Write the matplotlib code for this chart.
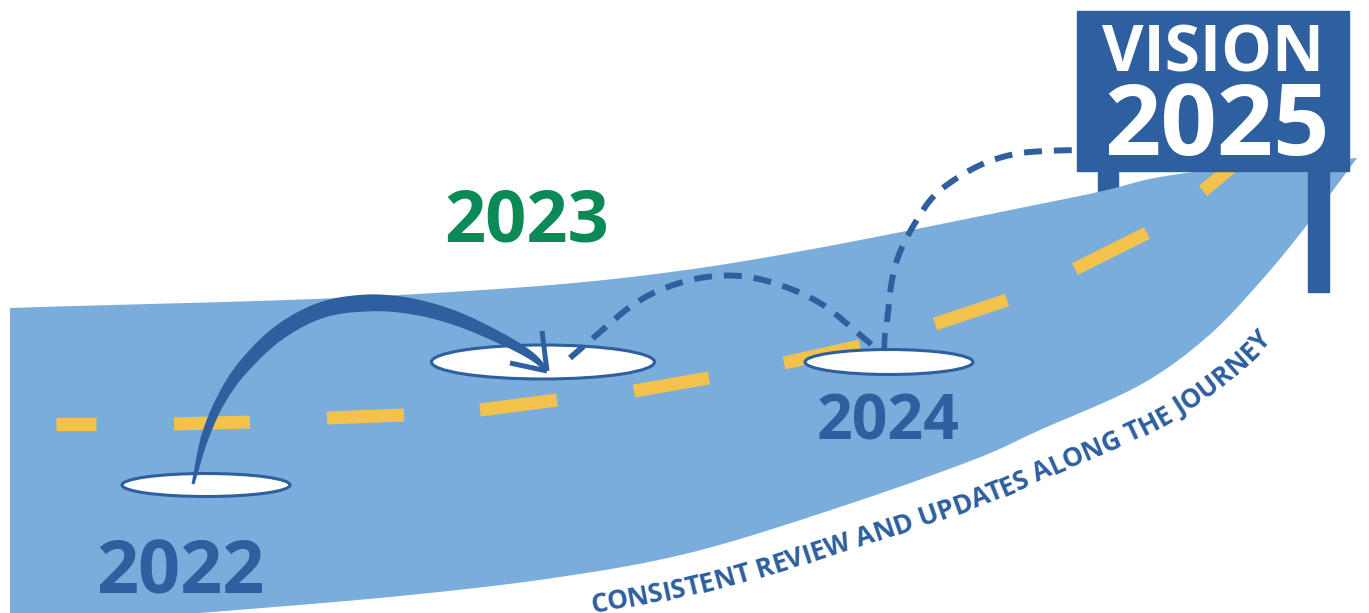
import numpy as np
import matplotlib
matplotlib.use("Agg")
import matplotlib.pyplot as plt
from matplotlib.patches import Ellipse, Polygon, Rectangle
from matplotlib.font_manager import FontProperties
from matplotlib.textpath import TextToPath

W, H = 1369, 613
ROAD = "#7AADDC"
BLUE = "#2E5F9E"
YELLOW = "#F2C24D"
GREEN = "#0B8A56"

# road outline (pixel coords, y down)
road_top = [(10, 308), (400, 295), (700, 268), (1060, 200), (1160, 177), (1260, 165), (1357, 158)]
road_bottom = [(-20, 630), (200, 613), (400, 596), (560, 577), (693, 552), (840, 507),
               (973, 460), (1040, 430), (1140, 385), (1207, 337), (1260, 282), (1307, 225),
               (1357, 158)]

# yellow centre-line dashes
dashes = [((56, 424), (96, 424)), ((174, 424), (250, 422)), ((327, 418), (404, 415)),
          ((480, 410), (557, 400)), ((634, 391), (709, 378)), ((784, 363), (860, 346)),
          ((935, 324), (1007, 300)), ((1075, 269), (1147, 233)), ((1203, 191), (1240, 160))]

# stepping stones: centre x, centre y, width, height
stones_x = [206, 543, 889]
stones_y = [485, 362, 362]
stones_w = [168, 223, 168]
stones_h = [23, 34, 25]

# years
years = ["2022", "2023", "2024"]
years_x = [180, 527, 888]
years_base = [593, 242, 440]
years_size = [53, 52, 45]
years_color = [BLUE, GREEN, BLUE]

# solid jump 2022 -> 2023 (centre line and stroke width)
jump_pts = [(193, 484), (205, 437), (222, 398), (245, 365), (280, 332), (322, 310),
            (367, 303), (410, 306), (455, 318), (500, 338), (530, 355), (547, 370)]
jump_w = [3, 8, 10, 13, 15, 16, 17, 16, 14, 11, 8, 4]

# dashed hops
hop1 = [(570, 358), (600, 332), (630, 307), (660, 290), (700, 278), (740, 276),
        (780, 285), (820, 303), (852, 328), (880, 352)]
hop2 = [(887, 322), (892, 280), (900, 252), (915, 223), (933, 197), (957, 178),
        (985, 163), (1015, 154), (1045, 151), (1080, 150)]

caption = "CONSISTENT REVIEW AND UPDATES ALONG THE JOURNEY"


def smooth(pts, n=30):
    pts = np.asarray(pts, float)
    p = np.vstack([2 * pts[0] - pts[1], pts, 2 * pts[-1] - pts[-2]])
    t = np.linspace(0, 1, n, endpoint=False)[:, None]
    out = []
    for i in range(1, len(p) - 2):
        p0, p1, p2, p3 = p[i - 1], p[i], p[i + 1], p[i + 2]
        out.append(0.5 * (2 * p1 + (-p0 + p2) * t + (2 * p0 - 5 * p1 + 4 * p2 - p3) * t ** 2
                          + (-p0 + 3 * p1 - 3 * p2 + p3) * t ** 3))
    out.append(pts[-1][None])
    return np.vstack(out)


def normals(c):
    d = np.gradient(c, axis=0)
    d /= np.hypot(d[:, 0], d[:, 1])[:, None]
    return np.column_stack([-d[:, 1], d[:, 0]]), d


fig = plt.figure(figsize=(W / 100, H / 100), dpi=100)
ax = fig.add_axes([0, 0, 1, 1])
ax.set_xlim(0, W)
ax.set_ylim(H, 0)
ax.axis("off")

# left sign leg sits behind the road
ax.add_patch(Rectangle((1098, 165), 20, 40, color=BLUE, zorder=1))

top = smooth(road_top)
bottom = smooth(road_bottom)
outline = np.vstack([top, bottom[::-1], [(10, 640)]])
ax.add_patch(Polygon(outline, closed=True, color=ROAD, lw=0, zorder=2))

for (x0, y0), (x1, y1) in dashes:
    ax.plot([x0, x1], [y0, y1], color=YELLOW, lw=9.4, solid_capstyle="butt", zorder=3)

for cx, cy, w, h in zip(stones_x, stones_y, stones_w, stones_h):
    ax.add_patch(Ellipse((cx, cy), w, h, fc="white", ec=BLUE, lw=2.2, zorder=4))

# tapered jump arrow
n = 30
c = smooth(jump_pts, n)
idx = np.arange(len(c)) / n
wid = np.interp(idx, np.arange(len(jump_w)), jump_w)
nrm, _ = normals(c)
left = c + nrm * wid[:, None] / 2
right = c - nrm * wid[:, None] / 2
ax.add_patch(Polygon(np.vstack([left, right[::-1]]), closed=True, color=BLUE, lw=0, zorder=5))
ax.plot([542, 547], [331, 371], color=BLUE, lw=3.6, solid_capstyle="butt", zorder=5)
ax.plot([510, 547], [363, 371], color=BLUE, lw=3.6, solid_capstyle="butt", zorder=5)

for hop in (hop1, hop2):
    h = smooth(hop)
    ax.plot(h[:, 0], h[:, 1], color=BLUE, lw=4.3, dashes=(3.0, 2.0),
            dash_capstyle="butt", zorder=5)
ax.plot([885, 884], [333, 351], color=BLUE, lw=4.0, solid_capstyle="butt", zorder=5)

for t, x, y, s, col in zip(years, years_x, years_base, years_size, years_color):
    ax.text(x, y, t, ha="center", va="baseline", fontsize=s, color=col,
            family="Open Sans", weight="bold", zorder=6)

# sign
ax.add_patch(Rectangle((1308, 165), 21, 127, color=BLUE, zorder=7))
ax.add_patch(Rectangle((1077, 11), 272, 160, color=BLUE, zorder=7))
ax.text(1213, 72, "VISION", ha="center", va="baseline", fontsize=46, color="white",
        family="Open Sans", weight="bold", zorder=8)
ax.text(1217, 155, "2025", ha="center", va="baseline", fontsize=71, color="white",
        family="Open Sans", weight="bold", zorder=8)

# caption bent along the lower road edge
fp = FontProperties(family="Open Sans", weight="bold", size=19)
ttp = TextToPath()
w_i = ttp.get_text_width_height_descent("I", fp, ismath=False)[0]


def advance(s):
    return (ttp.get_text_width_height_descent(s + "I", fp, ismath=False)[0] - w_i) * 100 / 72


edge = smooth(road_bottom, 80)
enrm, etan = normals(edge)
gap = np.interp(edge[:, 0], [590, 1000, 1300], [40, 46, 48])
base = edge + enrm * gap[:, None]
seg = np.hypot(*np.diff(base, axis=0).T)
arc = np.concatenate([[0], np.cumsum(seg)])
s0 = np.interp(592, base[:, 0], arc)
for i, ch in enumerate(caption):
    if ch == " ":
        continue
    s = s0 + (advance(caption[:i]) + advance(caption[:i + 1])) / 2
    x = np.interp(s, arc, base[:, 0])
    y = np.interp(s, arc, base[:, 1])
    tx = np.interp(s, arc, etan[:, 0])
    ty = np.interp(s, arc, etan[:, 1])
    ang = np.degrees(np.arctan2(-ty, tx))
    ax.text(x, y, ch, rotation=ang, rotation_mode="anchor", ha="center", va="baseline",
            fontproperties=fp, color=BLUE, zorder=6)

fig.savefig("out.png", dpi=100)
